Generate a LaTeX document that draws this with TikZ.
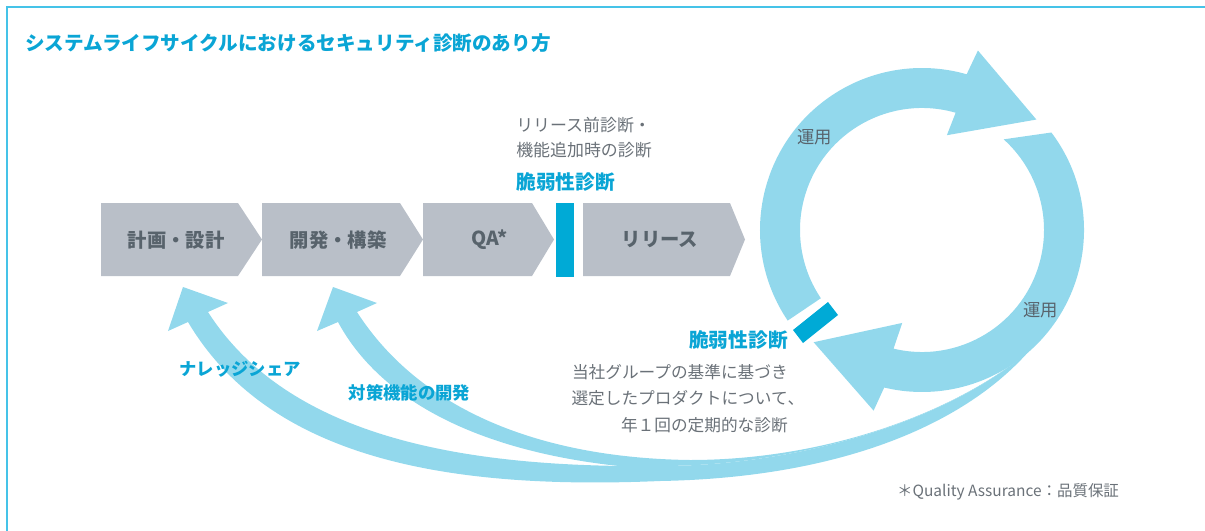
\documentclass[tikz,border=0pt]{standalone}
\usepackage{fontspec}
\setmainfont{Noto Sans CJK JP}
\definecolor{framecyan}{HTML}{45C3E8}
\definecolor{titlecyan}{HTML}{0AA5D5}
\definecolor{ringblue}{HTML}{92D8EC}
\definecolor{barblue}{HTML}{00AAD6}
\definecolor{boxgray}{HTML}{B9BFC8}
\definecolor{boxtext}{HTML}{58636C}
\definecolor{notegray}{HTML}{6A7178}

\begin{document}
\begin{tikzpicture}[x=0.75pt,y=-0.75pt,
    stage/.style={fill=boxgray},
    stagelabel/.style={inner sep=0,text=boxtext,font=\bfseries\fontsize{14.5}{16}\selectfont},
    ring/.style={fill=ringblue},
    diagbar/.style={fill=barblue},
    note/.style={inner sep=0,text=notegray,font=\fontsize{12.7}{18.75}\selectfont},
    keyword/.style={inner sep=0,text=titlecyan,font=\bfseries\fontsize{14.8}{18}\selectfont},
    flowlabel/.style={inner sep=0,text=titlecyan,font=\bfseries\fontsize{13}{15}\selectfont}]
    \useasboundingbox (0,0) rectangle (1205,531);
    % frame
    \draw[framecyan,line width=1.1pt] (1205,7) -- (7,7) -- (7,531);
    \node[inner sep=0,anchor=west,text=titlecyan,font=\bfseries\fontsize{14.7}{16}\selectfont]
      (title) at (25,43) {システムライフサイクルにおけるセキュリティ診断のあり方};
    % feedback arrows
    \fill[ring] (208,312) .. controls (290,440) and (470,468) .. (660,466)
      .. controls (800,466) and (950,420) .. (1030,350)
      .. controls (960,430) and (830,478) .. (660,481)
      .. controls (450,490) and (270,460) .. (188,322)
      -- (168,331) -- (183,287) -- (228,303) -- cycle;
    \fill[ring] (357,312) .. controls (420,410) and (540,458) .. (690,460)
      .. controls (830,460) and (960,410) .. (1030,350)
      .. controls (950,420) and (800,466) .. (660,466)
      -- (640,468) .. controls (480,455) and (380,400) .. (338,322)
      -- (317,331) -- (333,287) -- (377,303) -- cycle;
    % operation cycle
    \begin{scope}[shift={(922,230)}]
      \fill[ring] (146:162) arc[start angle=146,end angle=286,radius=162]
        -- (287.3:188) -- (316:159) -- (284.7:98) -- (286:122)
        arc[start angle=286,end angle=146,radius=122] -- cycle;
      \fill[ring] (323:162) arc[start angle=323,end angle=463.5,radius=162]
        -- (465:187) -- (494:156) -- (462:95) -- (463.5:122)
        arc[start angle=463.5,end angle=312,radius=122] -- cycle;
    \end{scope}
    \fill[diagbar] (793,330) -- (803,343) -- (838,315) -- (828,302) -- cycle;
    % stages
    \fill[stage] (101,203) -- (238,203) -- (262,239.5) -- (238,276) -- (101,276) -- cycle;
    \fill[stage] (262,203) -- (400,203) -- (423,239.5) -- (400,276) -- (262,276) -- cycle;
    \fill[stage] (423,203) -- (532,203) -- (554,239.5) -- (532,276) -- (423,276) -- cycle;
    \fill[stage] (583,203) -- (730,203) -- (745,239.5) -- (730,276) -- (583,276) -- cycle;
    \fill[diagbar] (556,203) rectangle (574,277);
    \node[stagelabel] (plan) at (176,240) {計画・設計};
    \node[stagelabel] (build) at (338,240) {開発・構築};
    \node[stagelabel] (qa) at (490,240) {QA*};
    \node[stagelabel] (release) at (660,240) {リリース};
    % labels
    \node[note,anchor=west,align=left] (prenote) at (516,137.5) {リリース前診断・\\機能追加時の診断};
    \node[keyword,anchor=west] (prediag) at (516,182) {脆弱性診断};
    \node[keyword,anchor=east] (regdiag) at (788,340) {脆弱性診断};
    \node[note,anchor=east,align=right,font=\fontsize{12.5}{19.9}\selectfont] (regnote) at (788,398.5)
      {当社グループの基準に基づき\\選定したプロダクトについて\rlap{、}\\年１回の定期的な診断};
    \node[note,text=boxtext,font=\fontsize{13}{15}\selectfont] (opA) at (814.5,137) {運用};
    \node[note,text=boxtext,font=\fontsize{13}{15}\selectfont] (opB) at (1040.5,310) {運用};
    \node[flowlabel] (share) at (240,369) {ナレッジシェア};
    \node[flowlabel] (counter) at (409.5,393) {対策機能の開発};
    \node[note,font=\fontsize{11.6}{13}\selectfont] (qanote) at (1008,492) {＊Quality Assurance：品質保証};
\end{tikzpicture}
\end{document}
